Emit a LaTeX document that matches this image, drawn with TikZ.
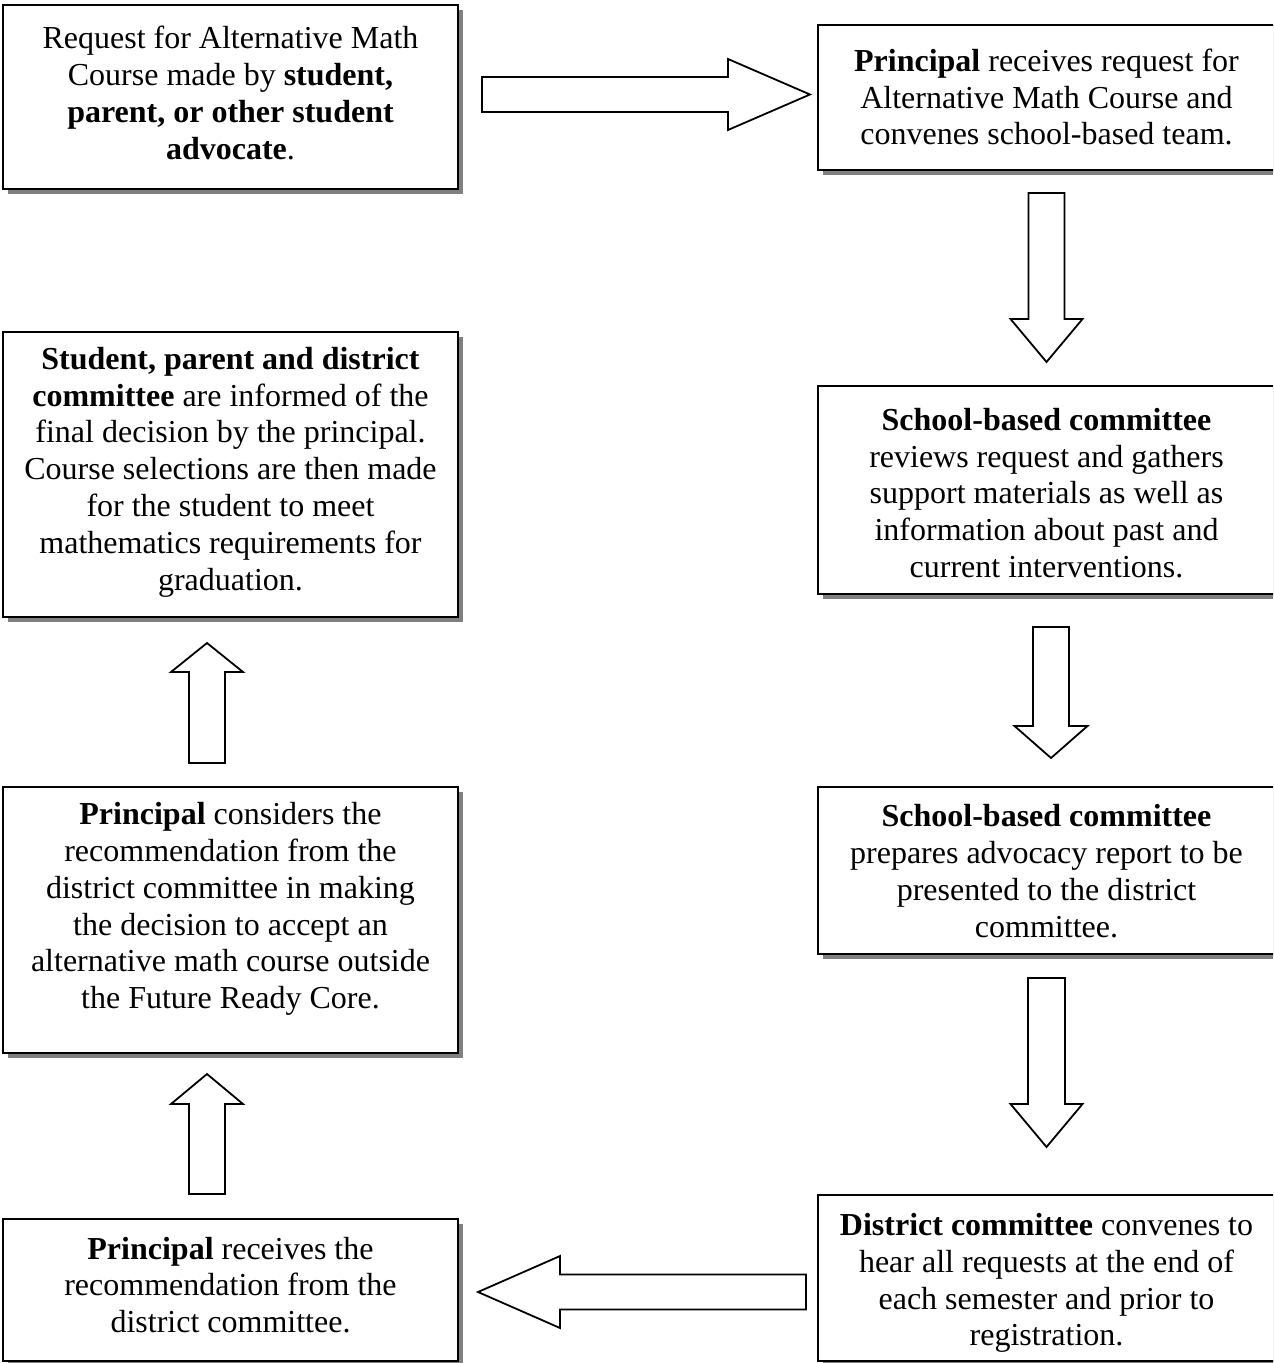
\documentclass[tikz,border=0pt]{standalone}
\usepackage{fontspec}
\setmainfont{Liberation Serif}
\usetikzlibrary{calc,shadows}
\tikzset{
  box/.style={draw=black, line width=1pt, fill=white, rectangle, inner sep=0pt,
    drop shadow={shadow xshift=2.5pt, shadow yshift=-2.5pt, fill=black!50, opacity=1}},
  txt/.style={align=center, inner sep=0pt, font=\fontsize{16}{18.4}\selectfont},
  barrow/.style={draw=black, line width=0.9pt, fill=white, line join=miter},
}
\newcommand{\blockarrow}[5]{%
  \coordinate (bajoin) at ($(#2)!#5!(#1)$);
  \draw[barrow] ($(#1)!#3!90:(#2)$) -- ($(bajoin)!#3!90:(#2)$) -- ($(bajoin)!#4!90:(#2)$)
    -- (#2) -- ($(bajoin)!#4!-90:(#2)$) -- ($(bajoin)!#3!-90:(#2)$) -- ($(#1)!#3!-90:(#2)$) -- cycle;
}
\begin{document}
\begin{tikzpicture}[x=0.5pt,y=-0.5pt]
\useasboundingbox (0,0) rectangle (1273,1363);
\clip (0,0) rectangle (1273,1363);
% boxes
\node[box, minimum width=227.5pt, minimum height=92pt]  (b1) at (230.5,97) {};
\node[box, minimum width=231pt, minimum height=72.5pt] (b2) at (1049,97.5) {};
\node[box, minimum width=231pt, minimum height=104pt] (b3) at (1049,490) {};
\node[box, minimum width=231pt, minimum height=83.5pt] (b4) at (1049,870.5) {};
\node[box, minimum width=231pt, minimum height=83pt]  (b5) at (1049,1278) {};
\node[box, minimum width=227.5pt, minimum height=71pt]  (b6) at (230.5,1290) {};
\node[box, minimum width=227.5pt, minimum height=133pt] (b7) at (230.5,920) {};
\node[box, minimum width=227.5pt, minimum height=142.5pt] (b8) at (230.5,474.5) {};
% texts
\node[txt] (t1) at (230.5,93) {Request for Alternative Math\\ Course made by \textbf{student,}\\ \textbf{parent, or other student}\\ \textbf{advocate}.};
\node[txt] (t2) at (1046.5,97) {\textbf{Principal} receives request for\\ Alternative Math Course and\\ convenes school-based team.};
\node[txt] (t3) at (1046.5,493) {\textbf{School-based committee}\\ reviews request and gathers\\ support materials as well as\\ information about past and\\ current interventions.};
\node[txt] (t4) at (1046.5,871) {\textbf{School-based committee}\\ prepares advocacy report to be\\ presented to the district\\ committee.};
\node[txt] (t5) at (1046.5,1283) {\textbf{District committee} convenes to\\ hear all requests at the end of\\ each semester and prior to\\ registration.};
\node[txt] (t6) at (230.5,1285) {\textbf{Principal} receives the\\ recommendation from the\\ district committee.};
\node[txt] (t7) at (230.5,909) {\textbf{Principal} considers the\\ recommendation from the\\ district committee in making\\ the decision to accept an\\ alternative math course outside\\ the Future Ready Core.};
\node[txt] (t8) at (230.5,472) {\textbf{Student, parent and district}\\ \textbf{committee} are informed of the\\ final decision by the principal.\\ Course selections are then made\\ for the student to meet\\ mathematics requirements for\\ graduation.};
% arrow end points
\coordinate (a1s) at (482,94.5);   \coordinate (a1e) at (810,94.5);
\coordinate (a2s) at (1046.5,193); \coordinate (a2e) at (1046.5,362);
\coordinate (a3s) at (1051,627);   \coordinate (a3e) at (1051,758);
\coordinate (a4s) at (1046.5,978); \coordinate (a4e) at (1046.5,1147);
\coordinate (a5s) at (806,1292);   \coordinate (a5e) at (478,1292);
\coordinate (a6s) at (207,1194);   \coordinate (a6e) at (207,1074);
\coordinate (a7s) at (207,763);    \coordinate (a7e) at (207,643);
% block arrows
\blockarrow{a1s}{a1e}{8.75pt}{17.75pt}{41pt}
\blockarrow{a2s}{a2e}{9pt}{18pt}{21.5pt}
\blockarrow{a3s}{a3e}{9pt}{18.25pt}{16pt}
\blockarrow{a4s}{a4e}{9.25pt}{18pt}{21.5pt}
\blockarrow{a5s}{a5e}{8.75pt}{18pt}{41pt}
\blockarrow{a6s}{a6e}{9pt}{18pt}{15pt}
\blockarrow{a7s}{a7e}{9pt}{18pt}{14.5pt}
\end{tikzpicture}
\end{document}
